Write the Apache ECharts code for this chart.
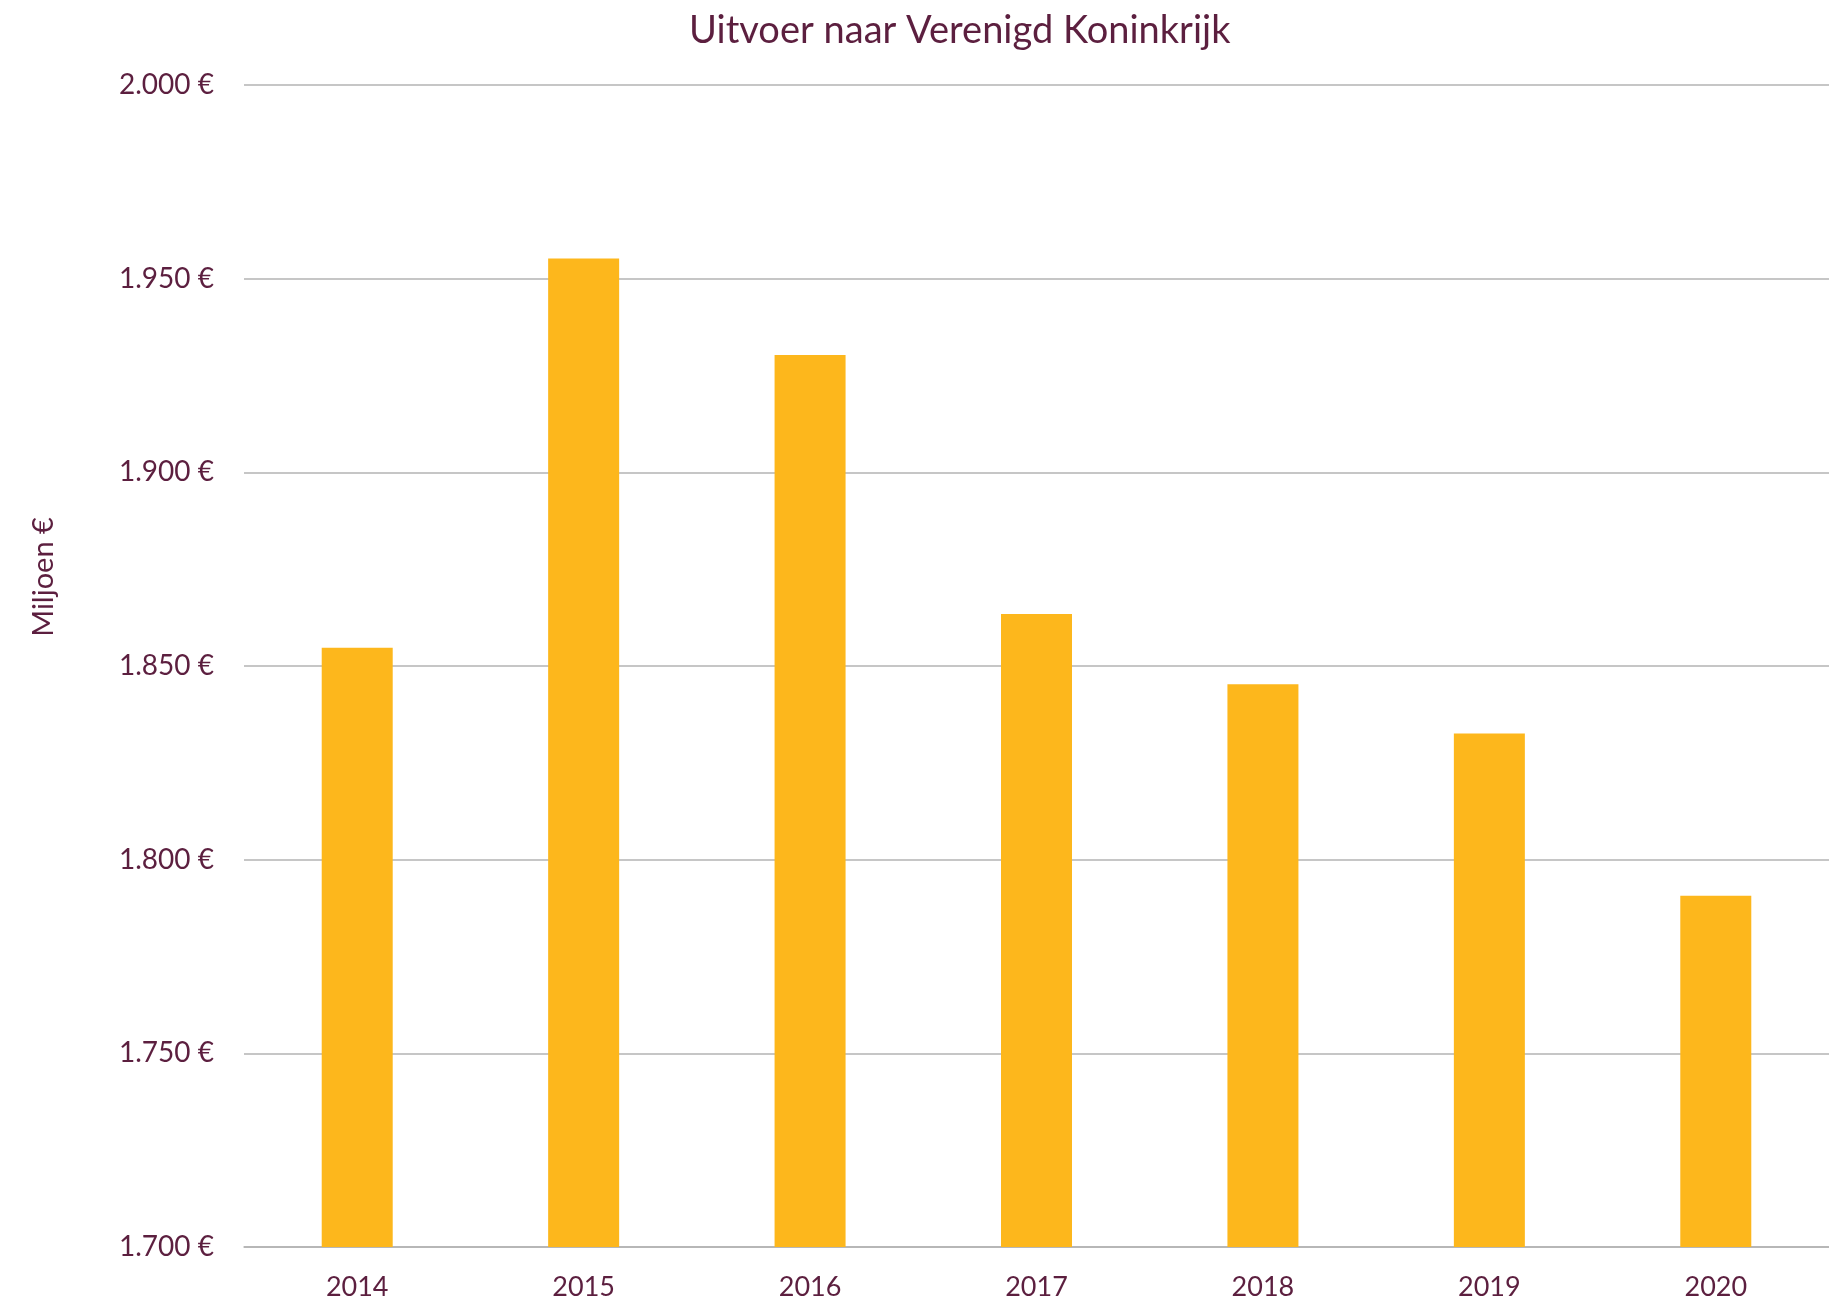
<!DOCTYPE html>
<html>
<head>
<meta charset="utf-8">
<script src="https://cdn.jsdelivr.net/npm/echarts@6/dist/echarts.min.js"></script>
<style>
html,body{margin:0;padding:0;background:#fff;}
#chart{width:1829px;height:1305px;}
</style>
</head>
<body>
<div id="chart"></div>
<script>
var categories = ['2014','2015','2016','2017','2018','2019','2020'];
var values = [1854.7, 1955.2, 1930.3, 1863.4, 1845.3, 1832.6, 1790.7];
var yTicks = [1700, 1750, 1800, 1850, 1900, 1950, 2000];
var titleText = 'Uitvoer naar Verenigd Koninkrijk';
var yAxisName = 'Miljoen €';

var maroon = '#5c1f3f';
var fontFam = 'Lato, "Noto Sans", sans-serif';

function fmt(v) {
  var s = String(Math.round(v));
  return s.replace(/\B(?=(\d{3})+(?!\d))/g, '.') + ' €';
}

var chart = echarts.init(document.getElementById('chart'), null, {renderer: 'canvas'});
chart.setOption({
  backgroundColor: '#ffffff',
  animation: false,
  title: {
    text: titleText,
    left: 684,
    top: 7,
    textStyle: {color: maroon, fontFamily: fontFam, fontSize: 38, fontWeight: 'normal'}
  },
  graphic: [{
    type: 'text',
    x: 44,
    y: 577,
    rotation: Math.PI / 2,
    style: {text: yAxisName, fill: maroon, font: '29px ' + fontFam, textAlign: 'center', textVerticalAlign: 'middle'}
  }],
  grid: {left: 244, right: 0, top: 85, bottom: 58, containLabel: false},
  xAxis: {
    type: 'category',
    data: categories,
    axisTick: {show: false},
    axisLine: {lineStyle: {color: '#b3b3b3', width: 1.5}},
    axisLabel: {color: maroon, fontFamily: fontFam, fontSize: 27, margin: 27}
  },
  yAxis: {
    type: 'value',
    min: yTicks[0],
    max: yTicks[yTicks.length - 1],
    interval: 50,
    axisLine: {show: false},
    axisTick: {show: false},
    splitLine: {lineStyle: {color: '#b3b3b3', width: 1.5}},
    axisLabel: {color: maroon, fontFamily: fontFam, fontSize: 28, margin: 30, formatter: fmt}
  },
  series: [{
    type: 'bar',
    data: values,
    barWidth: 71,
    itemStyle: {color: '#fdb71c'}
  }]
});
</script>
</body>
</html>
